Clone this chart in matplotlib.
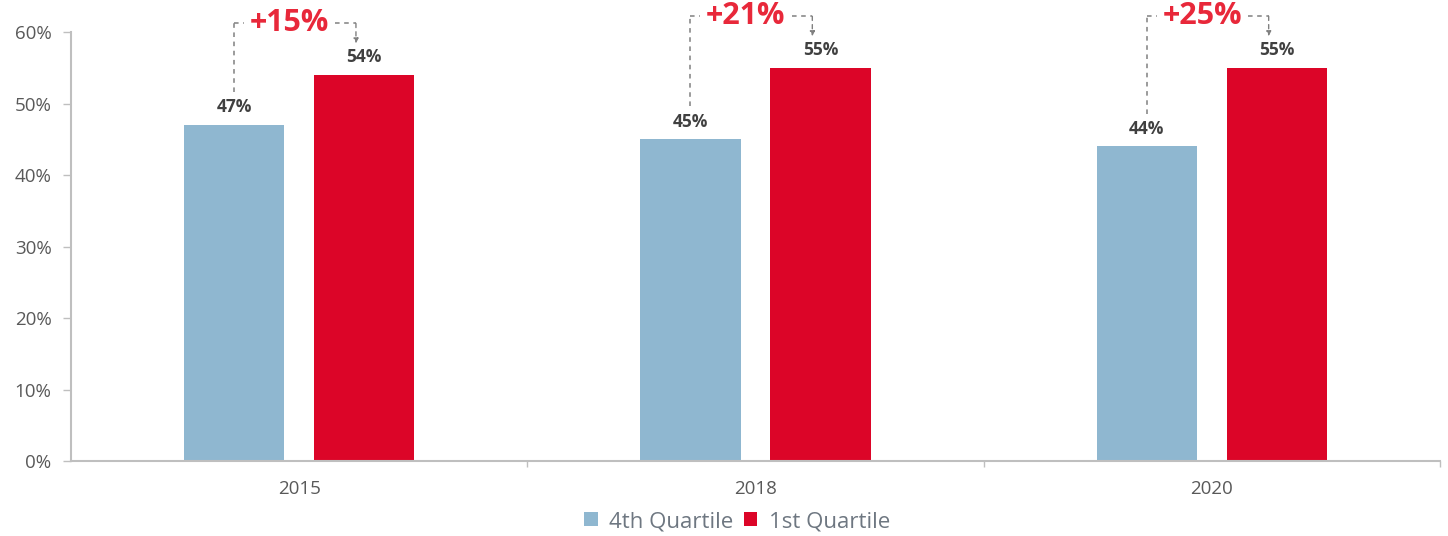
import numpy as np
import matplotlib.pyplot as plt

plt.rcParams['font.family'] = ['Open Sans', 'DejaVu Sans']

years = ['2015', '2018', '2020']
q4 = [47, 45, 44]
q1 = [54, 55, 55]
diff_labels = ['+15%', '+21%', '+25%']

blue = '#8fb7d0'
red = '#dc0528'
grey = '#bfbfbf'

fig = plt.figure(figsize=(14.48, 5.36), dpi=100)
ax = fig.add_axes([0.049, 0.1399, 0.9455, 0.8004])

x = np.arange(len(years))
w = 0.22
off = 0.1425
ax.bar(x - off, q4, w, color=blue, label='4th Quartile')
ax.bar(x + off, q1, w, color=red, label='1st Quartile')

for i in range(len(years)):
    ax.text(x[i] - off, q4[i] + 1.2, f'{q4[i]}%', ha='center', va='bottom',
            fontsize=12.5, fontweight='bold', color='#404040')
    ax.text(x[i] + off, q1[i] + 1.2, f'{q1[i]}%', ha='center', va='bottom',
            fontsize=12.5, fontweight='bold', color='#404040')

    # dashed bracket from blue label up, across, down to red label
    top = q1[i] + 7.2
    xl = x[i] - off
    xr = x[i] + off - 0.018
    xm = (xl + xr) / 2 - 0.012
    kw = dict(color='#808080', lw=1.1, ls=(0, (3, 3)), clip_on=False)
    ax.plot([xl, xl], [q4[i] + 4.6, top], **kw)
    ax.plot([xl, xm - 0.1], [top, top], **kw)
    ax.plot([xm + 0.1, xr], [top, top], **kw)
    ax.annotate('', xy=(xr, q1[i] + 4.4), xytext=(xr, top),
                arrowprops=dict(arrowstyle='-|>', color='#808080', lw=1.0,
                                ls=(0, (3, 3)), mutation_scale=7,
                                shrinkA=0, shrinkB=0),
                annotation_clip=False)
    ax.text(xm, top, diff_labels[i], ha='center', va='center', fontsize=22,
            fontweight='bold', color='#e8283a')

ax.set_xlim(-0.5, 2.5)
ax.set_ylim(0, 60)
ax.set_yticks(range(0, 61, 10))
ax.set_yticklabels([f'{v}%' for v in range(0, 61, 10)])
ax.set_xticks(x)
ax.set_xticklabels(years)
ax.set_xticks([0.5, 1.5, 2.5], minor=True)
ax.tick_params(axis='x', which='major', length=0, pad=14, labelsize=13.5, labelcolor='#595959')
ax.tick_params(axis='x', which='minor', length=4, color=grey, width=1)
ax.tick_params(axis='y', length=6, color=grey, width=1, pad=8, labelsize=13.5,
               labelcolor='#595959')

for s in ['top', 'right']:
    ax.spines[s].set_visible(False)
for s in ['left', 'bottom']:
    ax.spines[s].set_color(grey)
    ax.spines[s].set_linewidth(1.5)

leg = fig.legend(loc='center', bbox_to_anchor=(0.509, 0.027), ncol=2, frameon=False,
                 fontsize=16, handlelength=0.6, handleheight=0.6, handletextpad=0.5,
                 columnspacing=0.5)
for t in leg.get_texts():
    t.set_color('#6e7781')

fig.savefig('out.png', dpi=100)
